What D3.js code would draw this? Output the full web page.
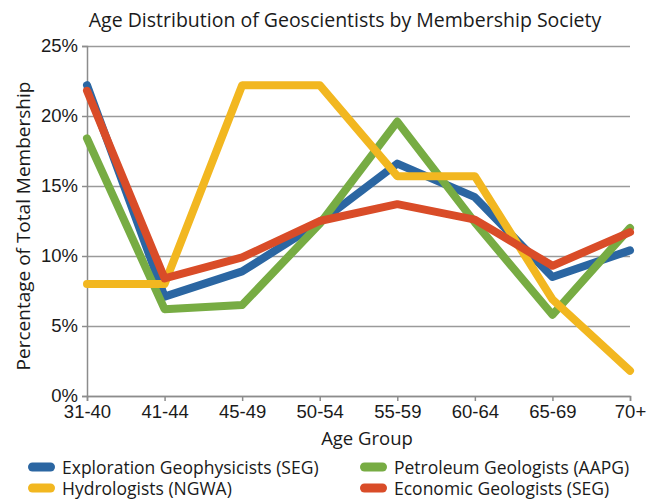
<!DOCTYPE html>
<html>
<head>
<meta charset="utf-8">
<script src="https://cdn.jsdelivr.net/npm/d3@7"></script>
<style>
  body { margin: 0; background: #fff; }
  svg { display: block; font-family: "Open Sans", sans-serif; }
</style>
</head>
<body>
<div id="chart"></div>
<script>
const ageGroups = ["31-40", "41-44", "45-49", "50-54", "55-59", "60-64", "65-69", "70+"];
const yTicks = [0, 5, 10, 15, 20, 25];

const explorationSEG = [22.2, 7.1, 8.9, 12.4, 16.6, 14.2, 8.5, 10.4];
const petroleumAAPG = [18.4, 6.2, 6.5, 12.3, 19.6, 12.4, 5.8, 12.0];
const hydroNGWA = [8.0, 8.0, 22.2, 22.2, 15.7, 15.7, 6.9, 1.8];
const economicSEG = [21.8, 8.4, 9.9, 12.5, 13.7, 12.6, 9.3, 11.7];

const seriesNames = [
  "Exploration Geophysicists (SEG)",
  "Petroleum Geologists (AAPG)",
  "Hydrologists (NGWA)",
  "Economic Geologists (SEG)"
];
const seriesColors = ["#2b66a2", "#77ac43", "#f2b720", "#d94c28"];
const seriesValues = [explorationSEG, petroleumAAPG, hydroNGWA, economicSEG];

const fullWidth = 670;
const fullHeight = 499;
const margin = { top: 46, right: 40, bottom: 103, left: 87 };
const width = fullWidth - margin.left - margin.right;
const height = fullHeight - margin.top - margin.bottom;

const root = d3.select("#chart")
  .append("svg")
  .attr("width", fullWidth)
  .attr("height", fullHeight);

const svg = root.append("g")
  .attr("transform", `translate(${margin.left},${margin.top})`);

// Scales
const xScale = d3.scalePoint()
  .domain(ageGroups)
  .range([0, width]);

const yScale = d3.scaleLinear()
  .domain([0, 25])
  .range([height, 0]);

// Grid lines
svg.append("g")
  .call(d3.axisLeft(yScale).tickValues(yTicks).tickSize(-width).tickFormat(""))
  .call(g => g.select(".domain").remove())
  .selectAll("line")
  .attr("stroke", "#9a9a9a")
  .attr("stroke-width", 1.5);

// Y axis
svg.append("g")
  .call(d3.axisLeft(yScale).tickValues(yTicks).tickSize(5).tickPadding(4).tickFormat(d => d + "%"))
  .call(g => g.select(".domain").attr("stroke", "#8c8c8c").attr("stroke-width", 1.5))
  .call(g => g.selectAll("line").attr("stroke", "#8c8c8c").attr("stroke-width", 1.5))
  .selectAll("text")
  .style("font-size", "18.5px")
  .attr("fill", "#1a1a1a")
  .attr("dy", "0.3em");

// X axis
svg.append("g")
  .attr("transform", `translate(0,${height})`)
  .call(d3.axisBottom(xScale).tickSize(5).tickPadding(4))
  .call(g => g.select(".domain").attr("stroke", "#8c8c8c").attr("stroke-width", 1.5))
  .call(g => g.selectAll("line").attr("stroke", "#8c8c8c").attr("stroke-width", 1.5))
  .selectAll("text")
  .style("font-size", "18.5px")
  .attr("fill", "#1a1a1a");

// Lines
const line = d3.line()
  .x((d, i) => xScale(ageGroups[i]))
  .y(d => yScale(d));

seriesValues.forEach((vals, i) => {
  svg.append("path")
    .datum(vals)
    .attr("fill", "none")
    .attr("stroke", seriesColors[i])
    .attr("stroke-width", 8)
    .attr("stroke-linejoin", "round")
    .attr("stroke-linecap", "round")
    .attr("d", line);
});

// Title
root.append("text")
  .attr("x", 345)
  .attr("y", 27)
  .attr("text-anchor", "middle")
  .style("font-size", "19.5px")
  .attr("fill", "#1a1a1a")
  .text("Age Distribution of Geoscientists by Membership Society");

// Axis labels
root.append("text")
  .attr("transform", `translate(30,${margin.top + height / 2 + 5}) rotate(-90)`)
  .attr("text-anchor", "middle")
  .style("font-size", "19px")
  .attr("fill", "#1a1a1a")
  .text("Percentage of Total Membership");

root.append("text")
  .attr("x", 367)
  .attr("y", 445)
  .attr("text-anchor", "middle")
  .style("font-size", "18.5px")
  .attr("fill", "#1a1a1a")
  .text("Age Group");

// Legend
const legendPos = [
  { x: 28, y: 467 },
  { x: 360, y: 467 },
  { x: 28, y: 488 },
  { x: 360, y: 488 }
];

seriesNames.forEach((name, i) => {
  const g = root.append("g")
    .attr("transform", `translate(${legendPos[i].x},${legendPos[i].y})`);
  g.append("rect")
    .attr("x", 0)
    .attr("y", -4.5)
    .attr("width", 27)
    .attr("height", 9)
    .attr("rx", 4.5)
    .attr("fill", seriesColors[i]);
  g.append("text")
    .attr("x", 34)
    .attr("y", 6.5)
    .style("font-size", "17.5px")
    .attr("fill", "#1a1a1a")
    .text(name);
});
</script>
</body>
</html>
